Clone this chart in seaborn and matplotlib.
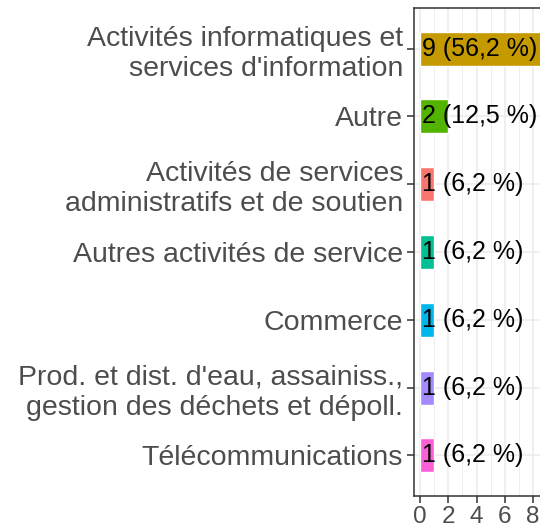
import seaborn as sns
import matplotlib.pyplot as plt
import pandas as pd

sns.set_theme(style="white")
plt.rcParams['font.family'] = ['Liberation Sans', 'DejaVu Sans']

categories = [
    "Activités informatiques et\nservices d'information",
    "Autre",
    "Activités de services\nadministratifs et de soutien",
    "Autres activités de service",
    "Commerce",
    "Prod. et dist. d'eau, assainiss.,\ngestion des déchets et dépoll.",
    "Télécommunications",
]
counts = [9, 2, 1, 1, 1, 1, 1]
bar_labels = ["9 (56,2 %)", "2 (12,5 %)", "1 (6,2 %)", "1 (6,2 %)",
              "1 (6,2 %)", "1 (6,2 %)", "1 (6,2 %)"]

# ggplot hue colours, assigned in alphabetical order of the categories
hue_colors = ["#F8766D", "#C49A00", "#53B400", "#00C094", "#00B6EB", "#A58AFF", "#FB61D7"]
palette = dict(zip(sorted(categories), hue_colors))

df = pd.DataFrame({"secteur": categories, "n": counts, "label": bar_labels})

fig = plt.figure(figsize=(5.4, 5.3), dpi=100)
ax = fig.add_axes([0.766, 0.064, 0.2591, 0.921])

ax.set_axisbelow(True)
for x in [1, 3, 5, 7, 9]:
    ax.axvline(x, color="#EBEBEB", lw=0.6, zorder=0)
for x in [0, 2, 4, 6, 8]:
    ax.axvline(x, color="#EBEBEB", lw=1.1, zorder=0)
for y in range(len(categories)):
    ax.axhline(y, color="#EBEBEB", lw=1.1, zorder=0)

sns.barplot(ax=ax, data=df, y="secteur", x="n", hue="secteur", palette=palette,
            order=categories, width=0.5, legend=False, saturation=1, zorder=2)

for i, row in df.iterrows():
    ax.text(0.12, i, row["label"], ha="left", va="center", fontsize=18, color="black", zorder=3)

ax.set_xlim(-0.45, 9.45)
ax.set_ylim(6.6, -0.6)
ax.set_xticks([0, 2, 4, 6, 8])
ax.set_xlabel("")
ax.set_ylabel("")

for side in ["left", "bottom", "top", "right"]:
    ax.spines[side].set_visible(True)
    ax.spines[side].set_color("#333333")
    ax.spines[side].set_linewidth(1.1)

ax.tick_params(axis="both", which="major", length=5, width=1.1, color="#333333",
               labelcolor="#4D4D4D", pad=2.5, left=True, bottom=True)
ax.tick_params(axis="x", labelsize=17.5)
ax.tick_params(axis="y", labelsize=20.5)
for lab in ax.get_yticklabels():
    lab.set_linespacing(1.2)

fig.savefig("out.png", dpi=100)
